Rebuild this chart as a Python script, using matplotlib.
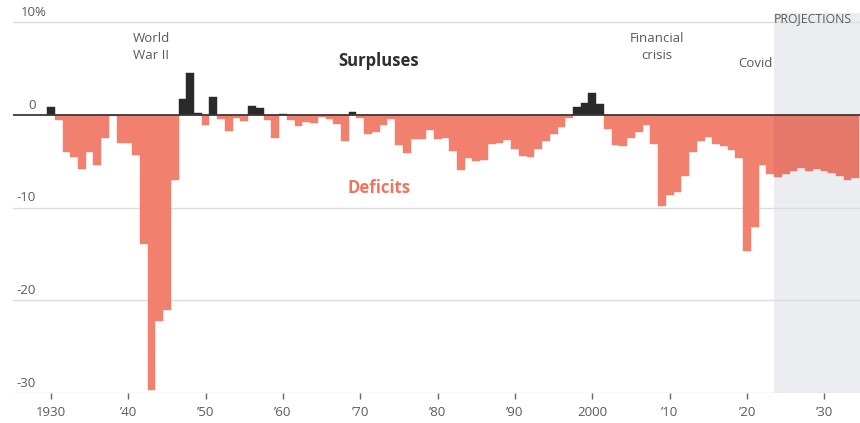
import matplotlib
matplotlib.use("Agg")
import matplotlib.pyplot as plt

plt.rcParams['font.family'] = ['Open Sans', 'DejaVu Sans']

# Federal surplus (+) / deficit (-) as a share of GDP, fiscal years 1930-2034
years = list(range(1930, 2035))
balance_pct = [
    0.8, -0.6, -4.0, -4.5, -5.8, -4.0, -5.4, -2.5, -0.1, -3.0,       # 1930s
    -3.0, -4.3, -13.9, -29.6, -22.2, -21.0, -7.0, 1.7, 4.5, 0.2,     # 1940s
    -1.1, 1.9, -0.4, -1.7, -0.3, -0.7, 0.9, 0.7, -0.6, -2.5,         # 1950s
    0.1, -0.6, -1.2, -0.8, -0.9, -0.2, -0.5, -1.0, -2.8, 0.3,        # 1960s
    -0.3, -2.1, -1.9, -1.1, -0.4, -3.3, -4.1, -2.6, -2.6, -1.6,      # 1970s
    -2.6, -2.5, -3.9, -5.9, -4.7, -5.0, -4.9, -3.1, -3.0, -2.7,      # 1980s
    -3.7, -4.4, -4.5, -3.7, -2.8, -2.1, -1.3, -0.3, 0.8, 1.3,        # 1990s
    2.3, 1.2, -1.5, -3.3, -3.4, -2.5, -1.8, -1.1, -3.1, -9.8,        # 2000s
    -8.6, -8.3, -6.6, -4.0, -2.8, -2.4, -3.1, -3.4, -3.8, -4.6,      # 2010s
    -14.7, -12.1, -5.4, -6.4,                                        # 2020-23
    -6.7, -6.4, -6.0, -5.7, -6.0, -5.8, -6.0, -6.3, -6.6, -7.0, -6.8 # projections
]
first_projection_year = 2024

tick_years = [1930, 1940, 1950, 1960, 1970, 1980, 1990, 2000, 2010, 2020, 2030]
tick_labels = ['1930', '\u201940', '\u201950', '\u201960', '\u201970', '\u201980',
               '\u201990', '2000', '\u201910', '\u201920', '\u201930']
y_gridlines = [10, -10, -20, -30]
y_labels = {10: '10%', 0: '0', -10: '-10', -20: '-20', -30: '-30'}

DEFICIT = '#F2806E'
DEFICIT_PROJ = '#E6786A'
SURPLUS = '#2A2A2A'
GREY_TEXT = '#5a5a5a'

fig = plt.figure(figsize=(8.6, 4.23), dpi=100)
ax = fig.add_axes([13 / 860, 1 - 393.3 / 423, 1 - 13 / 860, (393.3 - 12.7) / 423])
ax.set_xlim(1925.1, 2034.6)
ax.set_ylim(-30, 11)

colors = []
for y, v in zip(years, balance_pct):
    if v >= 0:
        colors.append(SURPLUS)
    elif y >= first_projection_year:
        colors.append(DEFICIT_PROJ)
    else:
        colors.append(DEFICIT)

# projection period shading
ax.axvspan(first_projection_year - 0.5, 2034.6, color='#ECEDF0', zorder=0, lw=0)

for g in y_gridlines:
    ax.axhline(g, color='#dcdcdc', lw=1.0, zorder=1)

ax.bar(years, balance_pct, width=1.0, color=colors, edgecolor=colors,
       linewidth=0.3, zorder=2)

ax.axhline(0, color='#3a3a3a', lw=1.3, zorder=4)

# y labels sit just above their gridlines
for val, lab in y_labels.items():
    if lab.endswith('%'):
        ax.text(21 / 860 * 0 + 0.0095, val + 0.35, lab, transform=ax.get_yaxis_transform(),
                ha='left', va='bottom', fontsize=9.5, color=GREY_TEXT)
    else:
        ax.text(0.027, val + 0.35, lab, transform=ax.get_yaxis_transform(),
                ha='right', va='bottom', fontsize=9.5, color=GREY_TEXT)

ax.set_xticks(tick_years)
ax.set_xticklabels(tick_labels)
ax.tick_params(axis='x', length=4.5, width=1, color='#666666', pad=5,
               labelsize=9.5, labelcolor=GREY_TEXT, direction='out')
ax.tick_params(axis='y', left=False, labelleft=False)
for s in ax.spines.values():
    s.set_visible(False)

# annotations
ax.text(1943.0, 7.3, 'World\nWar II', ha='center', va='center', fontsize=9.5,
        color=GREY_TEXT, linespacing=1.35)
ax.text(2008.3, 7.3, 'Financial\ncrisis', ha='center', va='center', fontsize=9.5,
        color=GREY_TEXT, linespacing=1.35)
ax.text(2021.1, 5.5, 'Covid', ha='center', va='center', fontsize=9.5, color=GREY_TEXT)
ax.text(first_projection_year - 0.5, 10.4, 'PROJECTIONS', ha='left', va='center',
        fontsize=8.8, color=GREY_TEXT)
ax.text(1972.4, 5.8, 'Surpluses', ha='center', va='center', fontsize=12,
        fontweight='bold', color='#2e2e2e')
ax.text(1972.4, -7.9, 'Deficits', ha='center', va='center', fontsize=12,
        fontweight='bold', color='#EE7561')

fig.savefig('out.png', dpi=100)
